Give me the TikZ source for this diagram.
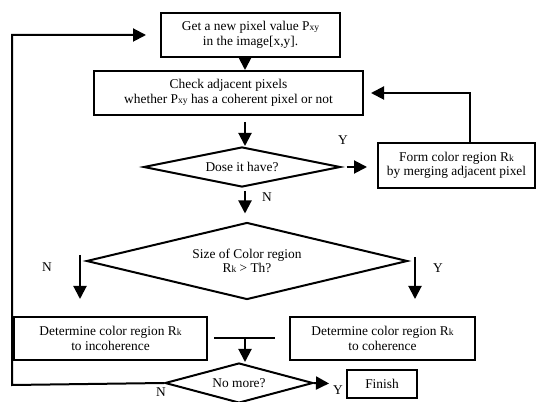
\documentclass[tikz,border=0pt]{standalone}
\usepackage{fontspec}
\setmainfont{Liberation Serif}
\usetikzlibrary{arrows.meta,positioning,calc,shapes.geometric}
\tikzset{
  proc/.style={draw,line width=2pt,align=center,inner sep=0pt},
  dec/.style={diamond,draw,line width=2pt,align=center,inner sep=0pt},
  arr/.style={line width=2pt,-{Triangle[length=13pt,width=13pt]}},
  lbl/.style={inner sep=0pt},
}
\newcommand{\kis}[1]{{\fontsize{9.5}{9.5}\selectfont #1}}

\begin{document}
\begin{tikzpicture}[x=1pt,y=1pt,font=\fontsize{13.4}{14.5}\selectfont]
  \useasboundingbox (0,0) rectangle (537,401);
  % boxes and decisions
  \node[proc,minimum width=179,minimum height=44] (get) at (250.5,366)
    {Get a new pixel value P\kis{xy}\\ in the image[x,y].};
  \node[proc,minimum width=269,minimum height=44] (check) at (228.5,308)
    {Check adjacent pixels\\ whether P\kis{xy} has a coherent pixel or not};
  \node[dec,minimum width=197,minimum height=40,aspect=4.9] (have) at (242,234) {Dose it have?};
  \node[proc,minimum width=157,minimum height=45] (form) at (456.5,235.5)
    {Form color region R\kis{k}\\ by merging adjacent pixel};
  \node[dec,minimum width=321,minimum height=77,aspect=4.2] (size) at (247,140)
    {Size of Color region\\ R\kis{k} > Th?};
  \node[proc,minimum width=193,minimum height=43] (incoh) at (110.5,62.5)
    {Determine color region R\kis{k}\\ to incoherence};
  \node[proc,minimum width=185,minimum height=43] (coh) at (382.5,62.5)
    {Determine color region R\kis{k}\\ to coherence};
  \node[dec,minimum width=148,minimum height=40,aspect=3.7] (more) at (239,18) {No more?};
  \node[proc,minimum width=70,minimum height=28] (fin) at (382,17) {Finish};
  % helper coordinates
  \coordinate (ax) at (245,0);
  \coordinate (lx) at (80,0);
  \coordinate (rx) at (415,0);
  \coordinate (lb) at (12,16);
  % connectors
  \draw[arr] (get.south -| ax) -- (check.north -| ax);
  \draw[arr,shorten <=6pt] (check.south -| ax) -- (have.north -| ax);
  \draw[arr,shorten <=5pt,shorten >=10pt] (have.east) -- (form.west |- have.east);
  \node[lbl] (y1) at (343,261) {Y};
  \draw[arr,shorten >=7pt] ([xshift=13.5pt]form.north) |- (check.east);
  \draw[arr,shorten <=3pt,shorten >=8pt] (have.south -| ax) -- (size.north -| ax);
  \node[lbl] (n1) at (267,204) {N};
  \draw[arr] ([yshift=6pt]size.west -| lx) -- ([yshift=17pt]incoh.north -| lx);
  \node[lbl] (n2) at (47,134) {N};
  \draw[arr] ([yshift=4pt]size.east -| rx) -- ([yshift=17pt]coh.north -| rx);
  \node[lbl] (y2) at (438,133) {Y};
  \draw[line width=2pt] ([xshift=6pt]incoh.east) -- ([xshift=-14pt]coh.west);
  \draw[arr] (incoh.east -| ax) -- (more.north -| ax);
  \draw[arr,shorten >=17pt] (more.east) -- (fin.west);
  \node[lbl] (y3) at (338,11) {Y};
  \draw[arr,shorten >=14pt] (more.west) -- (lb) |- (get.west);
  \node[lbl] (n3) at (161,9) {N};
\end{tikzpicture}
\end{document}
